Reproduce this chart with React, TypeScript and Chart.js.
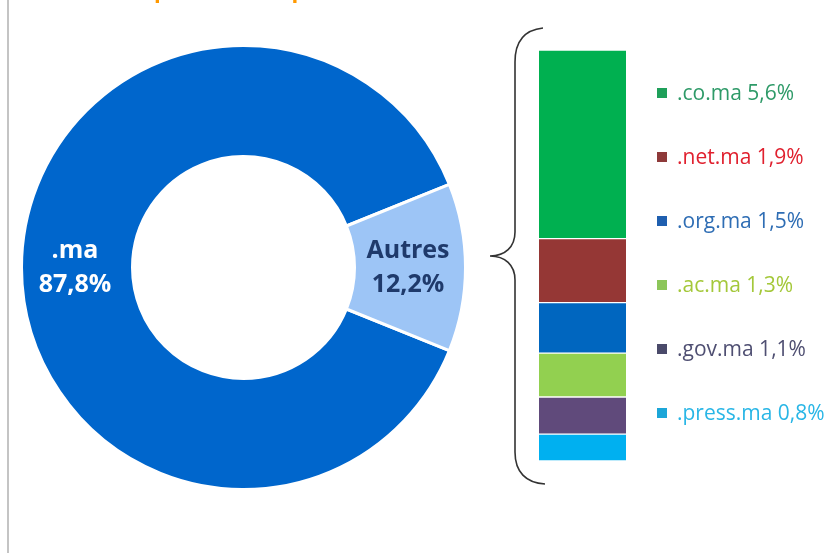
import React, { useEffect, useRef } from "react";
import { Chart, registerables } from "chart.js";

Chart.register(...registerables);

const titleText = "Répartition du parc des noms de domaine .ma";
const donutLabels = [".ma", "Autres"];
const donutValues = [87.8, 12.2];
const donutColors = ["#0066CC", "#9DC5F6"];
const donutTextColors = ["#FFFFFF", "#1F3A6B"];

const extLabels = [".co.ma", ".net.ma", ".org.ma", ".ac.ma", ".gov.ma", ".press.ma"];
const extValues = [5.6, 1.9, 1.5, 1.3, 1.1, 0.8];
const extBarColors = ["#00B050", "#953735", "#0066BF", "#92D050", "#604A7B", "#00B0F0"];
const extSquareColors = ["#1FA05A", "#8E3A3A", "#1F5FAF", "#8CC65A", "#4A4A6A", "#1CA6D8"];
const extTextColors = ["#2E9A68", "#E0202E", "#2E6DB4", "#A4C83A", "#4F4F72", "#29B6E6"];

const W = 836;
const H = 553;

const fmt = (v: number) => v.toFixed(1).replace(".", ",") + "%";

export default function App() {
  const donutRef = useRef<HTMLCanvasElement>(null);
  const barRef = useRef<HTMLCanvasElement>(null);

  useEffect(() => {
    const autresShare = donutValues[1] / donutValues.reduce((a, b) => a + b, 0);
    const rotation = 90 - 360 * (1 - autresShare) - (360 * autresShare) / 2;

    const donutDecor = {
      id: "donutDecor",
      beforeDraw(chart: any) {
        const ctx = chart.ctx;
        ctx.save();
        ctx.fillStyle = "#FFFFFF";
        ctx.fillRect(0, 0, W, H);
        ctx.fillStyle = "#C4C4C4";
        ctx.fillRect(7, 0, 2, H);
        ctx.font = "bold 22px 'Open Sans'";
        ctx.fillStyle = "#FF9900";
        ctx.textBaseline = "alphabetic";
        const startX = 154 - ctx.measureText("Ré").width;
        ctx.fillText(titleText, startX, -2);
        ctx.restore();
      },
      afterDatasetsDraw(chart: any) {
        const ctx = chart.ctx;
        const meta = chart.getDatasetMeta(0);
        ctx.save();
        ctx.font = "bold 25px 'Open Sans'";
        ctx.textAlign = "center";
        ctx.textBaseline = "middle";
        meta.data.forEach((arc: any, i: number) => {
          const p = arc.tooltipPosition(false);
          ctx.fillStyle = donutTextColors[i];
          ctx.fillText(donutLabels[i], p.x - 2, p.y - 17);
          ctx.fillText(fmt(donutValues[i]), p.x - 2, p.y + 17);
        });
        ctx.restore();
      },
    };

    const donut = new Chart(donutRef.current!, {
      type: "doughnut",
      data: {
        labels: donutLabels,
        datasets: [
          {
            data: donutValues,
            backgroundColor: donutColors,
            borderColor: "#FFFFFF",
            borderWidth: 3,
          },
        ],
      },
      options: {
        responsive: false,
        animation: false,
        devicePixelRatio: 1,
        rotation,
        cutout: "50%",
        layout: { padding: { left: 20, top: 44, right: W - 467, bottom: H - 491 } },
        plugins: { legend: { display: false }, tooltip: { enabled: false }, title: { display: false } },
      },
      plugins: [donutDecor],
    });

    const total = extValues.reduce((a, b) => a + b, 0);
    const order = extLabels.map((_, i) => i).reverse();

    const barDecor = {
      id: "barDecor",
      afterDraw(chart: any) {
        const ctx = chart.ctx;
        ctx.save();
        // curly brace
        ctx.strokeStyle = "#333333";
        ctx.lineWidth = 1.6;
        ctx.beginPath();
        ctx.moveTo(543, 28);
        ctx.bezierCurveTo(524, 30, 515, 42, 515, 62);
        ctx.lineTo(515, 232);
        ctx.bezierCurveTo(515, 247, 505, 256, 490, 256);
        ctx.bezierCurveTo(505, 256, 515, 265, 515, 280);
        ctx.lineTo(515, 452);
        ctx.bezierCurveTo(515, 472, 526, 483, 545, 484);
        ctx.stroke();
        // legend
        ctx.font = "21px 'Open Sans'";
        ctx.textAlign = "left";
        ctx.textBaseline = "middle";
        extLabels.forEach((lab, i) => {
          const y = 93 + i * 64;
          ctx.fillStyle = extSquareColors[i];
          ctx.fillRect(657, y - 5, 10, 10);
          ctx.fillStyle = extTextColors[i];
          ctx.fillText(lab + " " + fmt(extValues[i]), 677, y + 1);
        });
        ctx.restore();
      },
    };

    const bar = new Chart(barRef.current!, {
      type: "bar",
      data: {
        labels: ["Autres"],
        datasets: order.map((i) => ({
          label: extLabels[i],
          data: [extValues[i]],
          backgroundColor: extBarColors[i],
          borderColor: "#FFFFFF",
          borderWidth: { top: 1, bottom: 1, left: 0, right: 0 },
          borderSkipped: false,
          barPercentage: 1,
          categoryPercentage: 1,
        })),
      },
      options: {
        responsive: false,
        animation: false,
        devicePixelRatio: 1,
        layout: { padding: { left: 539, right: W - 626, top: 50, bottom: H - 461 } },
        scales: {
          x: { display: false, stacked: true },
          y: { display: false, stacked: true, min: 0, max: total },
        },
        plugins: { legend: { display: false }, tooltip: { enabled: false }, title: { display: false } },
      },
      plugins: [barDecor],
    });

    return () => {
      donut.destroy();
      bar.destroy();
    };
  }, []);

  return (
    <div style={{ position: "absolute", left: 0, top: 0, width: W, height: H, background: "#FFFFFF" }}>
      <canvas ref={donutRef} width={W} height={H} style={{ position: "absolute", left: 0, top: 0 }} />
      <canvas ref={barRef} width={W} height={H} style={{ position: "absolute", left: 0, top: 0 }} />
    </div>
  );
}
